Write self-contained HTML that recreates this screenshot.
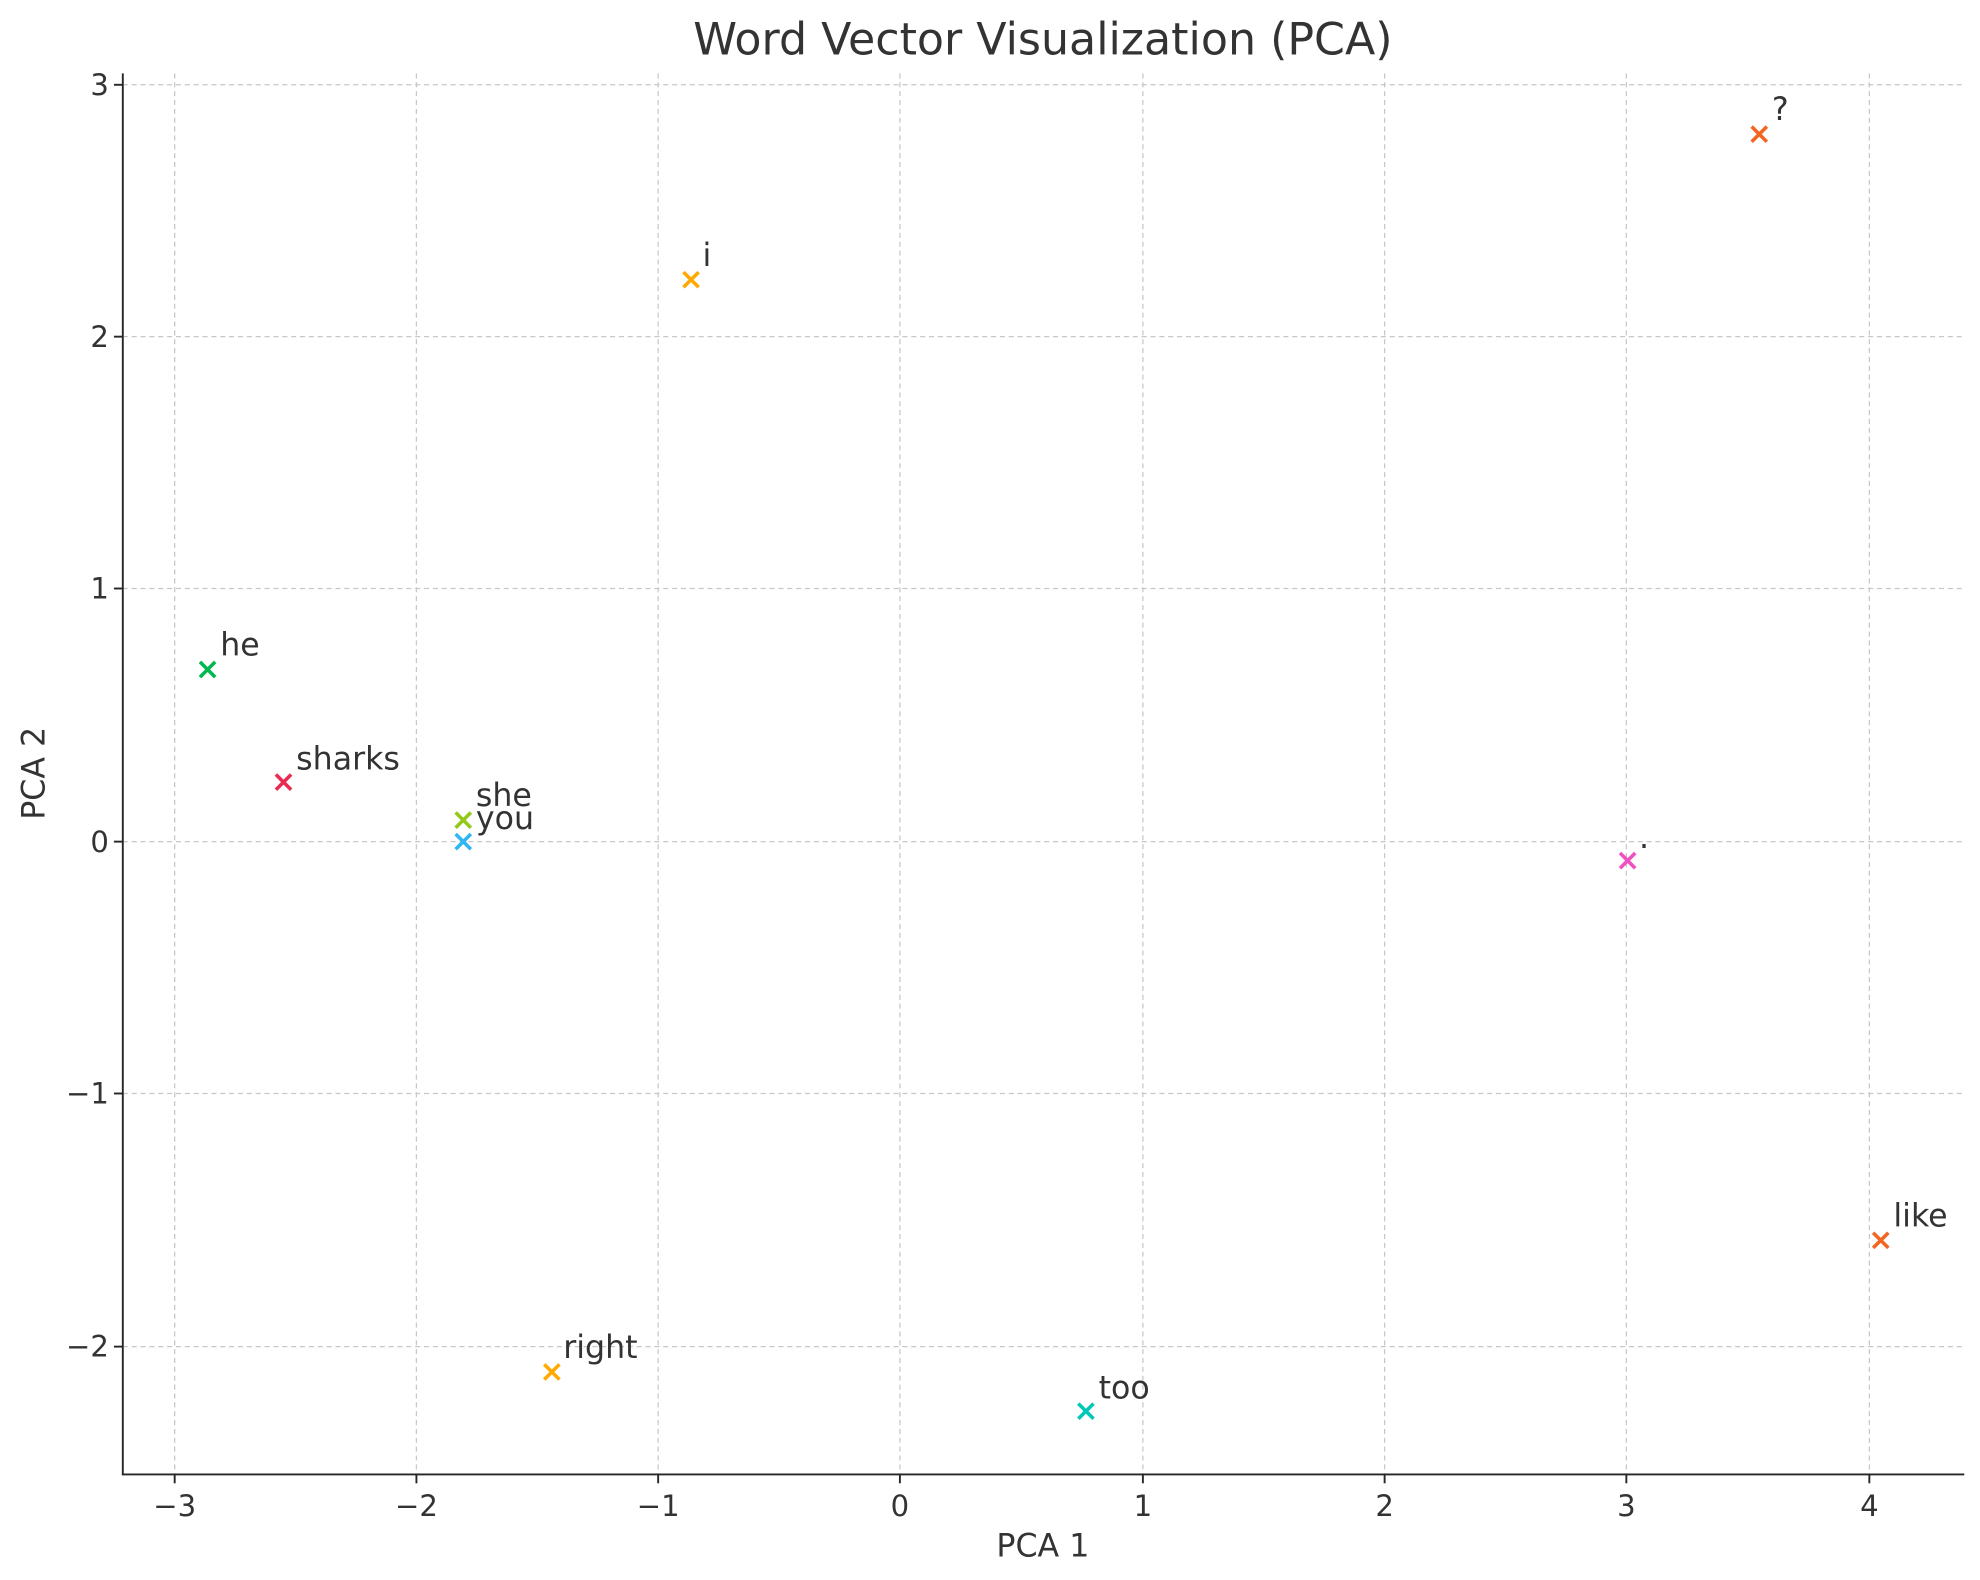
<!DOCTYPE html>
<html><head><meta charset="utf-8"><style>
html,body{margin:0;padding:0;background:#fff}
svg{display:block}
text{font-family:"DejaVu Sans","Liberation Sans",sans-serif;fill:#333}
</style></head><body>
<svg width="1980" height="1580" viewBox="0 0 1564.4 1248.4" xmlns="http://www.w3.org/2000/svg">
<rect width="1564.4" height="1248.4" fill="#fff"/>
<g stroke="#c8c8c8" stroke-width="1" stroke-dasharray="4,3">
<line x1="138" y1="58" x2="138" y2="1165"/><line x1="329" y1="58" x2="329" y2="1165"/>
<line x1="520" y1="58" x2="520" y2="1165"/><line x1="711" y1="58" x2="711" y2="1165"/>
<line x1="903" y1="58" x2="903" y2="1165"/><line x1="1094" y1="58" x2="1094" y2="1165"/>
<line x1="1285" y1="58" x2="1285" y2="1165"/><line x1="1477" y1="58" x2="1477" y2="1165"/>
<line x1="97" y1="67" x2="1552" y2="67"/><line x1="97" y1="266" x2="1552" y2="266"/>
<line x1="97" y1="465" x2="1552" y2="465"/><line x1="97" y1="665" x2="1552" y2="665"/>
<line x1="97" y1="864" x2="1552" y2="864"/><line x1="97" y1="1064" x2="1552" y2="1064"/>
</g>
<g stroke="#262626" stroke-width="1.5">
<line x1="97" y1="58" x2="97" y2="1165.5"/><line x1="96.3" y1="1165" x2="1552" y2="1165"/>
<line x1="138" y1="1165" x2="138" y2="1172"/><line x1="329" y1="1165" x2="329" y2="1172"/>
<line x1="520" y1="1165" x2="520" y2="1172"/><line x1="711" y1="1165" x2="711" y2="1172"/>
<line x1="903" y1="1165" x2="903" y2="1172"/><line x1="1094" y1="1165" x2="1094" y2="1172"/>
<line x1="1285" y1="1165" x2="1285" y2="1172"/><line x1="1477" y1="1165" x2="1477" y2="1172"/>
<line x1="90" y1="67" x2="97" y2="67"/><line x1="90" y1="266" x2="97" y2="266"/>
<line x1="90" y1="465" x2="97" y2="465"/><line x1="90" y1="665" x2="97" y2="665"/>
<line x1="90" y1="864" x2="97" y2="864"/><line x1="90" y1="1064" x2="97" y2="1064"/>
</g>
<g font-size="23" text-anchor="middle" style="fill:#1a1a1a">
<text x="138" y="1198">−3</text><text x="329" y="1198">−2</text><text x="520" y="1198">−1</text>
<text x="711" y="1198">0</text><text x="903" y="1198">1</text><text x="1094" y="1198">2</text>
<text x="1285" y="1198">3</text><text x="1477" y="1198">4</text>
</g>
<g font-size="23" text-anchor="end" style="fill:#1a1a1a">
<text x="86" y="75">3</text><text x="86" y="274">2</text><text x="86" y="473">1</text>
<text x="86" y="673">0</text><text x="86" y="872">−1</text><text x="86" y="1072">−2</text>
</g>
<text x="824" y="1230" font-size="25" text-anchor="middle">PCA 1</text>
<text x="0" y="0" font-size="25" text-anchor="middle" transform="translate(35,611) rotate(-90)">PCA 2</text>
<text x="824" y="43" font-size="35" text-anchor="middle">Word Vector Visualization (PCA)</text>
<g stroke-width="2.8" fill="none">
<path d="M158,523l12,12M170,523l-12,12" stroke="#00b84f"/>
<path d="M218,612l12,12M230,612l-12,12" stroke="#ea2a50"/>
<path d="M360,642l12,12M372,642l-12,12" stroke="#93c91a"/>
<path d="M360,659l12,12M372,659l-12,12" stroke="#2fb6f5"/>
<path d="M540,215l12,12M552,215l-12,12" stroke="#ffaa00"/>
<path d="M430,1078l12,12M442,1078l-12,12" stroke="#ffaa00"/>
<path d="M852,1109l12,12M864,1109l-12,12" stroke="#00c8b8"/>
<path d="M1280,674l12,12M1292,674l-12,12" stroke="#f050c0"/>
<path d="M1384,100l12,12M1396,100l-12,12" stroke="#f26522"/>
<path d="M1480,974l12,12M1492,974l-12,12" stroke="#f26522"/>
</g>
<g font-size="25">
<text x="174" y="518">he</text>
<text x="234" y="608">sharks</text>
<text x="376" y="637">she</text>
<text x="376" y="655">you</text>
<text x="555" y="210">i</text>
<text x="445" y="1073">right</text>
<text x="868" y="1105">too</text>
<text x="1295" y="670">.</text>
<text x="1400" y="95">?</text>
<text x="1496" y="969">like</text>
</g>
</svg>
</body></html>
